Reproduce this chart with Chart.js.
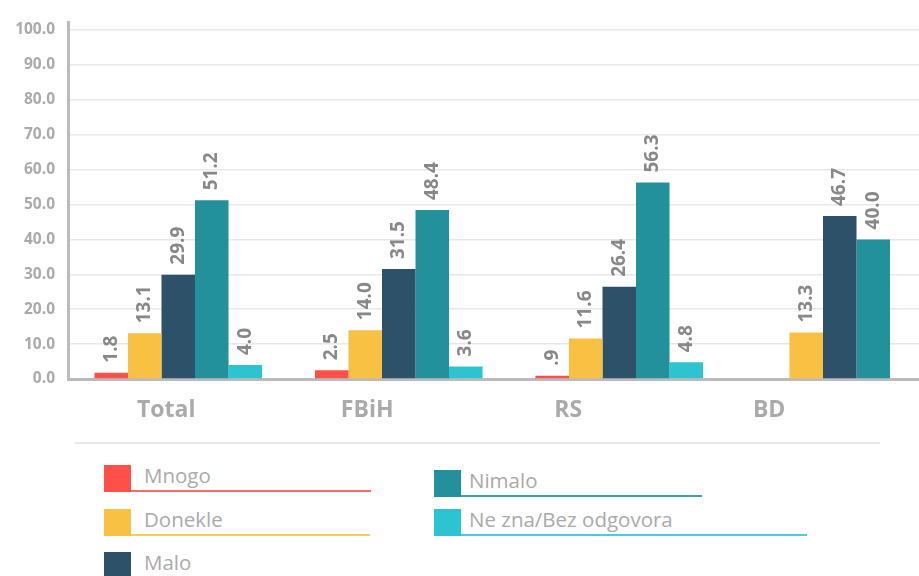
<!DOCTYPE html>
<html>
<head>
<meta charset="utf-8">
<script src="https://cdn.jsdelivr.net/npm/chart.js@4/dist/chart.umd.min.js"></script>
<style>
  html, body { margin: 0; padding: 0; background: #fff; overflow: hidden; }
  body { width: 919px; height: 576px; position: relative; font-family: "Open Sans", sans-serif; }
  #wrap { position: absolute; left: 0; top: 0; width: 950px; height: 440px; }
  .sep { position: absolute; left: 75px; top: 442px; width: 805px; height: 2px; background: #e8e8e8; }
  .lg { position: absolute; height: 27px; }
  .lg .sw { position: absolute; left: 0; top: 0; width: 27px; height: 27px; }
  .lg .tx { position: absolute; top: -3px; white-space: nowrap; font-size: 20.5px; color: #aaa; line-height: 27px; }
  .lg .ul { position: absolute; left: 27px; top: 25px; height: 2px; }
</style>
</head>
<body>
<div id="wrap"><canvas id="c"></canvas></div>
<div class="sep"></div>
<div id="legend"></div>
<script>
const CATEGORIES = ['Total', 'FBiH', 'RS', 'BD'];
const SERIES = ['Mnogo', 'Donekle', 'Malo', 'Nimalo', 'Ne zna/Bez odgovora'];
const COLORS = ['#fc5049', '#f9c143', '#2d5169', '#23919c', '#2bc4d0'];
const MNOGO = [1.8, 2.5, 0.9, null];
const DONEKLE = [13.1, 14.0, 11.6, 13.3];
const MALO = [29.9, 31.5, 26.4, 46.7];
const NIMALO = [51.2, 48.4, 56.3, 40.0];
const NE_ZNA = [4.0, 3.6, 4.8, null];
const Y_TICKS = [0, 10, 20, 30, 40, 50, 60, 70, 80, 90, 100];

const VALUES = [MNOGO, DONEKLE, MALO, NIMALO, NE_ZNA];
const FONT = '"Open Sans", sans-serif';

function fmt(v) {
  let s = v.toFixed(1);
  if (v < 1) s = s.replace(/^0/, '');
  return s;
}

// rotated value labels above the bars
const barLabels = {
  id: 'barLabels',
  afterDatasetsDraw(chart) {
    const ctx = chart.ctx;
    ctx.save();
    ctx.fillStyle = '#888';
    ctx.font = 'bold 19px ' + FONT;
    ctx.textAlign = 'left';
    ctx.textBaseline = 'middle';
    chart.data.datasets.forEach((ds, di) => {
      const meta = chart.getDatasetMeta(di);
      meta.data.forEach((el, i) => {
        const v = ds.data[i];
        if (v === null || v === undefined) return;
        ctx.save();
        ctx.translate(el.x, el.y - 10);
        ctx.rotate(-Math.PI / 2);
        ctx.fillText(fmt(v), 0, 0);
        ctx.restore();
      });
    });
    ctx.restore();
  }
};

// category labels sit on their own linear axis (they are not centred on the bar groups)
const XL_MIN = -0.4888, XL_MAX = 3.9;

new Chart(document.getElementById('c'), {
  type: 'bar',
  data: {
    labels: CATEGORIES,
    datasets: SERIES.map((name, i) => ({
      label: name,
      data: VALUES[i],
      backgroundColor: COLORS[i],
      borderWidth: 0,
      barPercentage: 1,
      categoryPercentage: 0.76,
    }))
  },
  options: {
    responsive: true, maintainAspectRatio: false,
    animation: false,
    layout: { padding: { top: 13, left: 0, right: 0, bottom: 0 } },
    plugins: { legend: { display: false }, tooltip: { enabled: false } },
    scales: {
      x: { display: false },
      xl: {
        type: 'linear', position: 'bottom', bounds: 'data', offset: false,
        min: XL_MIN, max: XL_MAX,
        afterDataLimits: (s) => { s.min = XL_MIN; s.max = XL_MAX; },
        afterBuildTicks: (s) => { s.ticks = CATEGORIES.map((c, i) => ({ value: i })); },
        afterFit: (s) => { s.height = 61; },
        grid: { display: false, drawTicks: false, offset: false },
        border: { display: true, color: '#bbb', width: 3 },
        ticks: {
          callback: (v) => CATEGORIES[v],
          color: '#aaa', font: { family: FONT, size: 23, weight: 'bold' },
          padding: 18, maxRotation: 0, minRotation: 0, autoSkip: false,
        }
      },
      y: {
        min: 0, max: 102.2,
        afterBuildTicks: (s) => { s.ticks = Y_TICKS.map(v => ({ value: v })); },
        afterFit: (s) => { s.width = 68; },
        grid: { color: '#e8e8e8', lineWidth: 1.5, drawTicks: false },
        border: { display: true, color: '#bbb', width: 3 },
        ticks: {
          callback: (v) => v.toFixed(1),
          color: '#aaa', font: { family: FONT, size: 15.5, weight: 'bold' },
          padding: 13,
        }
      }
    }
  },
  plugins: [barLabels]
});

// legend (two columns, underlined in series colour)
const LEGEND_POS = [
  { x: 104, y: 465, tx: 40, ul: 240 },
  { x: 104, y: 509, tx: 40, ul: 239 },
  { x: 104, y: 552, tx: 40, ul: 0 },
  { x: 434, y: 470, tx: 35, ul: 241 },
  { x: 434, y: 509, tx: 35, ul: 346 },
];
const lg = document.getElementById('legend');
SERIES.forEach((name, i) => {
  const p = LEGEND_POS[i];
  const d = document.createElement('div');
  d.className = 'lg';
  d.style.left = p.x + 'px';
  d.style.top = p.y + 'px';
  d.innerHTML = '<div class="sw" style="background:' + COLORS[i] + '"></div>' +
    '<div class="tx" style="left:' + p.tx + 'px">' + name + '</div>' +
    (p.ul ? '<div class="ul" style="width:' + p.ul + 'px;background:' + COLORS[i] + ';opacity:.85"></div>' : '');
  lg.appendChild(d);
});
</script>
</body>
</html>
